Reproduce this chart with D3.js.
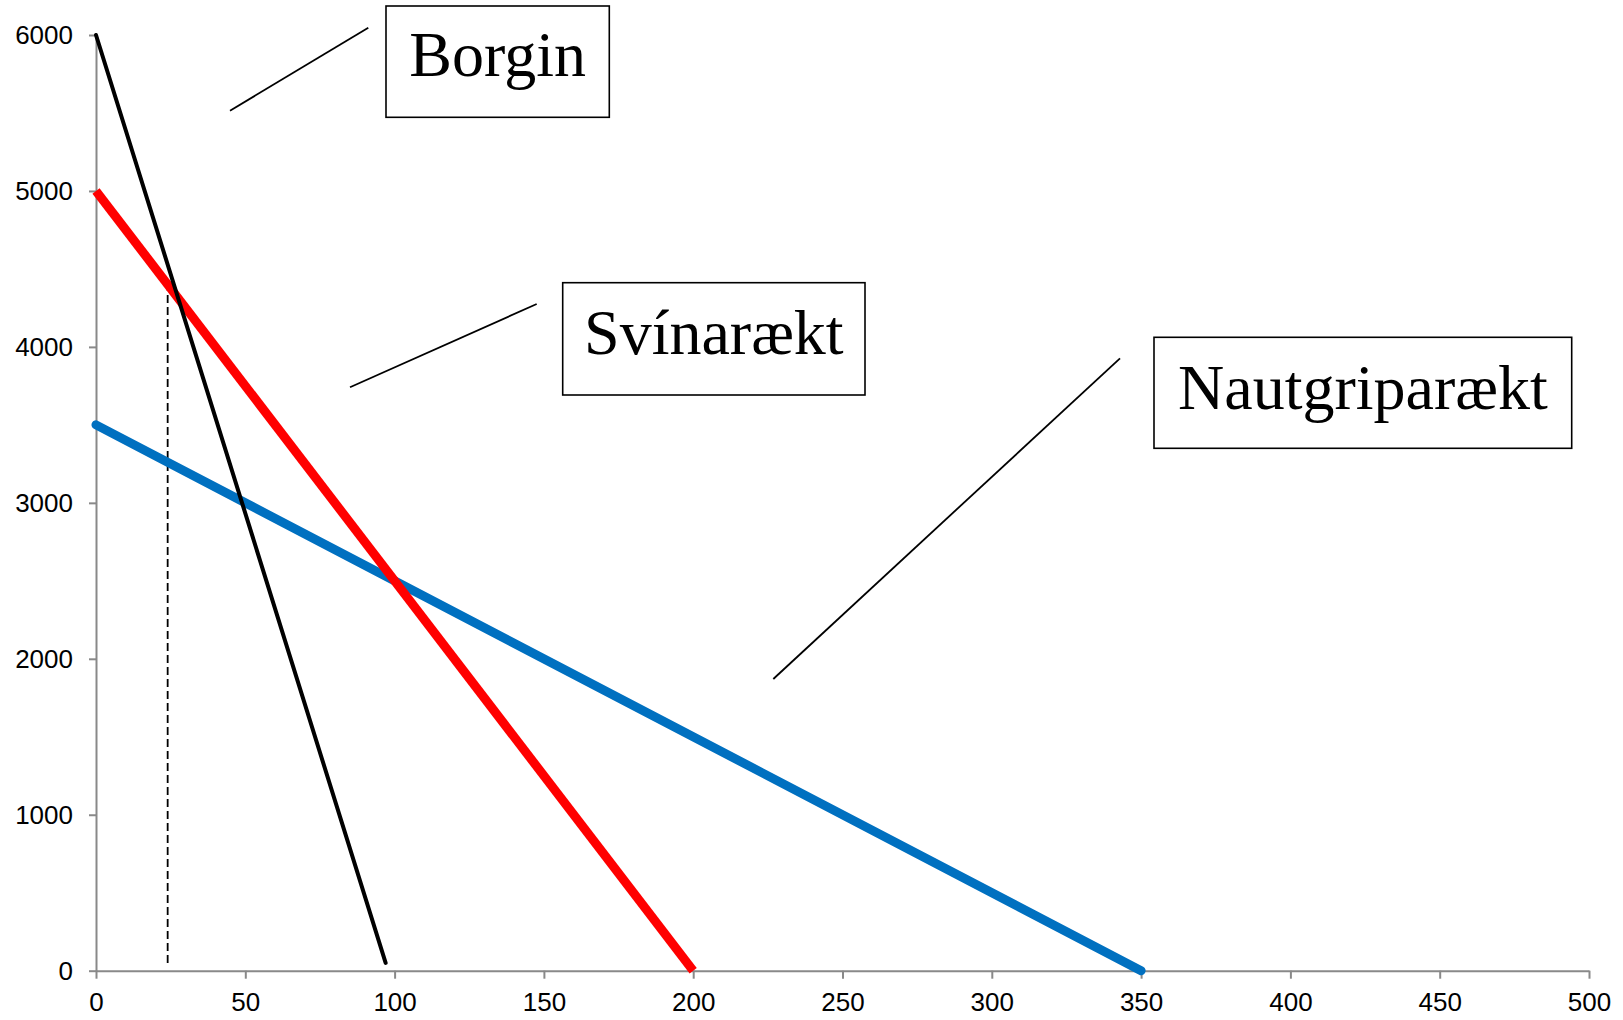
<!DOCTYPE html>
<html>
<head>
<meta charset="utf-8">
<script src="https://cdn.jsdelivr.net/npm/d3@7"></script>
<style>
  html, body { margin: 0; padding: 0; background: #fff; }
  svg { display: block; }
</style>
</head>
<body>
<svg id="chart" width="1623" height="1020"></svg>
<script>
// ---- data ----
const xTicks = [0, 50, 100, 150, 200, 250, 300, 350, 400, 450, 500];
const yTicks = [0, 1000, 2000, 3000, 4000, 5000, 6000];
const seriesNames = ["Borgin", "Svínarækt", "Nautgriparækt"];
const borginLine = [[0, 6000], [97, 50]];
const svinLine = [[0, 5000], [200, 0]];
const nautLine = [[0, 3500], [350, 0]];
const dashedLine = [[24, 50], [24, 4400]];

// ---- layout (pixels) ----
const W = 1623, H = 1020;
const plot = { left: 96, right: 1589, top: 35, bottom: 970.7 };
const boxes = [
  { x0: 386, y0: 6, x1: 609.3, y1: 117.3, base: 76, lead: [[230, 110.7], [368.3, 27.7]] },
  { x0: 562.7, y0: 282.7, x1: 865, y1: 395, base: 354, lead: [[350, 387.3], [536.7, 304]] },
  { x0: 1154, y0: 337.3, x1: 1571.7, y1: 448.3, base: 409, lead: [[773.3, 679], [1120, 358.3]] }
];

const svg = d3.select("#chart");
const x = d3.scaleLinear().domain([0, 500]).range([plot.left, plot.right]);
const y = d3.scaleLinear().domain([0, 6000]).range([plot.bottom, plot.top]);

const axisColor = "#898989";

// axes
const gx = svg.append("g")
  .attr("transform", `translate(0,${plot.bottom})`)
  .call(d3.axisBottom(x).tickValues(xTicks).tickSize(8).tickSizeOuter(0).tickPadding(14).tickFormat(d3.format("d")));
const gy = svg.append("g")
  .attr("transform", `translate(${plot.left},0)`)
  .call(d3.axisLeft(y).tickValues(yTicks).tickSize(7).tickSizeOuter(0).tickPadding(16).tickFormat(d3.format("d")));

[gx, gy].forEach(g => {
  g.selectAll("path.domain").attr("stroke", axisColor).attr("stroke-width", 2);
  g.selectAll(".tick line").attr("stroke", axisColor).attr("stroke-width", 2);
  g.selectAll(".tick text")
    .attr("fill", "#000")
    .style("font-family", "'Liberation Sans', Arial, sans-serif")
    .style("font-size", "26px");
});

const line = d3.line().x(d => x(d[0])).y(d => y(d[1]));

// dashed vertical
svg.append("path").datum(dashedLine)
  .attr("d", line).attr("fill", "none")
  .attr("stroke", "#000").attr("stroke-width", 1.8)
  .attr("stroke-dasharray", "8,4");

// series lines
svg.append("path").datum(nautLine)
  .attr("d", line).attr("fill", "none")
  .attr("stroke", "#0070C0").attr("stroke-width", 9).attr("stroke-linecap", "round");
svg.append("path").datum(svinLine)
  .attr("d", line).attr("fill", "none")
  .attr("stroke", "#FF0000").attr("stroke-width", 9).attr("stroke-linecap", "butt");
svg.append("path").datum(borginLine)
  .attr("d", line).attr("fill", "none")
  .attr("stroke", "#000").attr("stroke-width", 4).attr("stroke-linecap", "round");

// annotations
boxes.forEach((b, i) => {
  svg.append("line")
    .attr("x1", b.lead[0][0]).attr("y1", b.lead[0][1])
    .attr("x2", b.lead[1][0]).attr("y2", b.lead[1][1])
    .attr("stroke", "#000").attr("stroke-width", 1.8);
  svg.append("rect")
    .attr("x", b.x0).attr("y", b.y0)
    .attr("width", b.x1 - b.x0).attr("height", b.y1 - b.y0)
    .attr("fill", "#fff").attr("stroke", "#000").attr("stroke-width", 1.6);
  svg.append("text")
    .attr("x", (b.x0 + b.x1) / 2).attr("y", b.base)
    .attr("text-anchor", "middle")
    .style("font-family", "'Liberation Serif', 'Times New Roman', serif")
    .style("font-size", "64px")
    .attr("fill", "#000")
    .text(seriesNames[i]);
});
</script>
</body>
</html>
